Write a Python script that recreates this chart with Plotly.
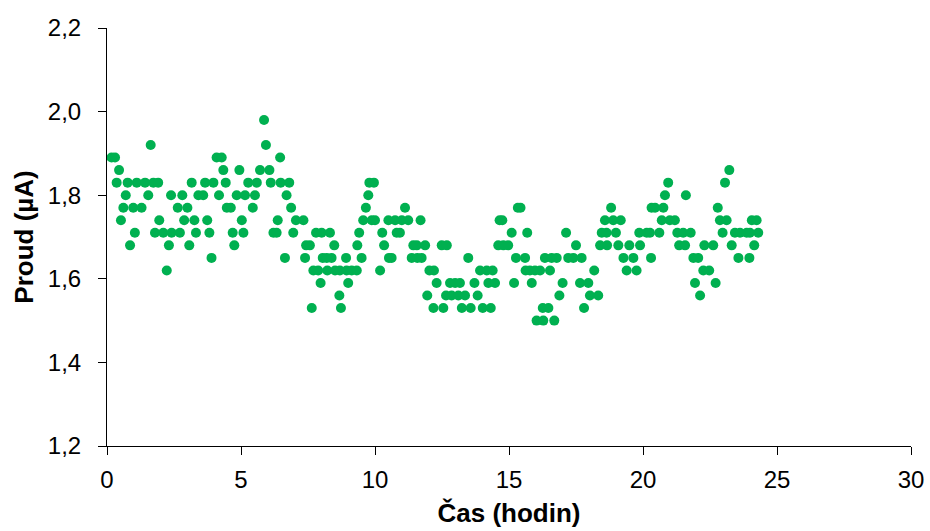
import plotly.graph_objects as go

# Time (hours) and current (µA)
time_h = [
    0.17, 0.30, 0.36, 0.45, 0.52, 0.61, 0.70, 0.77, 0.86, 0.98,
    1.04, 1.11, 1.29, 1.42, 1.54, 1.63, 1.73, 1.79, 1.91, 1.95,
    2.10, 2.23, 2.31, 2.39, 2.41, 2.64, 2.72, 2.81, 2.88, 3.00,
    3.07, 3.16, 3.26, 3.32, 3.41, 3.59, 3.66, 3.74, 3.82, 3.90,
    3.97, 4.09, 4.18, 4.28, 4.34, 4.43, 4.47, 4.62, 4.69, 4.75,
    4.84, 4.94, 5.03, 5.09, 5.15, 5.27, 5.44, 5.52, 5.59, 5.71,
    5.86, 5.93, 6.06, 6.11, 6.21, 6.33, 6.37, 6.46, 6.48, 6.64,
    6.70, 6.80, 6.87, 6.95, 7.05, 7.33, 7.39, 7.43, 7.57, 7.64,
    7.70, 7.80, 7.88, 7.97, 8.01, 8.05, 8.20, 8.22, 8.32, 8.38,
    8.48, 8.51, 8.67, 8.69, 8.73, 8.92, 8.94, 9.00, 9.13, 9.32,
    9.34, 9.41, 9.50, 9.56, 9.66, 9.75, 9.79, 9.88, 9.96, 10.00,
    10.19, 10.27, 10.34, 10.50, 10.52, 10.62, 10.75, 10.81, 10.93, 11.00,
    11.12, 11.24, 11.37, 11.43, 11.56, 11.58, 11.70, 11.74, 11.87, 11.95,
    12.03, 12.18, 12.20, 12.30, 12.49, 12.55, 12.65, 12.68, 12.80, 12.86,
    12.99, 13.11, 13.17, 13.24, 13.36, 13.48, 13.57, 13.71, 13.83, 13.92,
    14.02, 14.17, 14.23, 14.32, 14.39, 14.48, 14.60, 14.65, 14.75, 14.79,
    14.97, 15.10, 15.19, 15.26, 15.33, 15.43, 15.60, 15.62, 15.68, 15.78,
    15.85, 15.97, 16.03, 16.16, 16.26, 16.28, 16.34, 16.47, 16.53, 16.59,
    16.69, 16.78, 16.88, 17.00, 17.13, 17.21, 17.40, 17.50, 17.65, 17.71,
    17.80, 17.96, 18.02, 18.18, 18.33, 18.40, 18.46, 18.58, 18.64, 18.66,
    18.81, 18.89, 18.99, 19.08, 19.17, 19.27, 19.39, 19.49, 19.64, 19.76,
    19.86, 19.89, 20.14, 20.26, 20.30, 20.32, 20.45, 20.61, 20.70, 20.76,
    20.82, 20.94, 21.00, 21.19, 21.28, 21.35, 21.50, 21.57, 21.60, 21.78,
    21.88, 21.94, 22.06, 22.13, 22.25, 22.29, 22.47, 22.62, 22.71, 22.79,
    22.87, 22.97, 23.06, 23.12, 23.22, 23.31, 23.43, 23.56, 23.62, 23.87,
    23.97, 23.99, 24.06, 24.15, 24.24, 24.30,
]

current_uA = [
    1.89, 1.89, 1.83, 1.86, 1.74, 1.77, 1.80, 1.83, 1.68, 1.77,
    1.71, 1.83, 1.77, 1.83, 1.80, 1.92, 1.83, 1.71, 1.83, 1.74,
    1.71, 1.62, 1.68, 1.80, 1.71, 1.77, 1.71, 1.80, 1.74, 1.77,
    1.68, 1.83, 1.74, 1.71, 1.80, 1.80, 1.83, 1.74, 1.71, 1.65,
    1.83, 1.89, 1.80, 1.89, 1.86, 1.83, 1.77, 1.77, 1.71, 1.68,
    1.80, 1.86, 1.74, 1.71, 1.80, 1.83, 1.77, 1.80, 1.83, 1.86,
    1.98, 1.92, 1.86, 1.83, 1.71, 1.71, 1.74, 1.89, 1.83, 1.65,
    1.80, 1.83, 1.77, 1.71, 1.74, 1.74, 1.65, 1.68, 1.68, 1.53,
    1.62, 1.71, 1.62, 1.59, 1.71, 1.65, 1.65, 1.62, 1.71, 1.65,
    1.68, 1.62, 1.56, 1.62, 1.53, 1.65, 1.62, 1.59, 1.62, 1.62,
    1.68, 1.71, 1.65, 1.74, 1.77, 1.80, 1.83, 1.74, 1.83, 1.74,
    1.62, 1.71, 1.68, 1.74, 1.65, 1.65, 1.74, 1.71, 1.71, 1.74,
    1.77, 1.74, 1.65, 1.68, 1.68, 1.65, 1.74, 1.65, 1.68, 1.56,
    1.62, 1.53, 1.62, 1.59, 1.68, 1.53, 1.56, 1.68, 1.59, 1.56,
    1.59, 1.56, 1.59, 1.53, 1.56, 1.65, 1.53, 1.59, 1.56, 1.62,
    1.53, 1.62, 1.59, 1.53, 1.62, 1.59, 1.68, 1.74, 1.74, 1.68,
    1.68, 1.71, 1.59, 1.65, 1.77, 1.77, 1.65, 1.62, 1.71, 1.62,
    1.59, 1.62, 1.50, 1.62, 1.53, 1.50, 1.65, 1.53, 1.62, 1.65,
    1.50, 1.65, 1.56, 1.59, 1.71, 1.65, 1.65, 1.68, 1.59, 1.65,
    1.53, 1.59, 1.56, 1.62, 1.56, 1.68, 1.71, 1.74, 1.71, 1.68,
    1.77, 1.74, 1.71, 1.68, 1.74, 1.65, 1.62, 1.68, 1.65, 1.62,
    1.71, 1.68, 1.71, 1.71, 1.65, 1.77, 1.77, 1.71, 1.74, 1.77,
    1.80, 1.83, 1.74, 1.74, 1.71, 1.68, 1.71, 1.68, 1.80, 1.71,
    1.65, 1.59, 1.65, 1.56, 1.62, 1.68, 1.62, 1.68, 1.59, 1.77,
    1.74, 1.71, 1.83, 1.74, 1.86, 1.68, 1.71, 1.65, 1.71, 1.71,
    1.65, 1.71, 1.74, 1.68, 1.74, 1.71,
]

x_ticks = [0, 5, 10, 15, 20, 25, 30]
y_ticks = [1.2, 1.4, 1.6, 1.8, 2.0, 2.2]
y_tick_labels = ["1,2", "1,4", "1,6", "1,8", "2,0", "2,2"]

FONT = "Liberation Sans, Arial, sans-serif"
GREEN = "#00B050"

fig = go.Figure(
    go.Scatter(
        x=time_h,
        y=current_uA,
        mode="markers",
        marker=dict(color=GREEN, size=10, line=dict(width=0)),
        showlegend=False,
    )
)

fig.update_layout(
    width=930,
    height=531,
    margin=dict(l=107, r=19, t=28, b=85, autoexpand=False),
    paper_bgcolor="white",
    plot_bgcolor="white",
    font=dict(family=FONT, color="black", size=24),
    separators=",.",
)

fig.update_xaxes(
    range=[0, 30],
    tickvals=x_ticks,
    ticks="outside",
    ticklen=8,
    tickwidth=1,
    tickcolor="black",
    showline=True,
    linecolor="black",
    linewidth=1,
    showgrid=False,
    zeroline=False,
    tickfont=dict(family=FONT, size=24, color="black"),
    ticklabelstandoff=4,
    title=dict(text="<b>Čas (hodin)</b>", font=dict(family=FONT, size=26, color="black"), standoff=12),
    automargin=False,
)

fig.update_yaxes(
    range=[1.2, 2.2],
    tickvals=y_ticks,
    ticktext=y_tick_labels,
    ticks="outside",
    ticklen=8,
    tickwidth=1,
    tickcolor="black",
    showline=True,
    linecolor="black",
    linewidth=1,
    showgrid=False,
    zeroline=False,
    tickfont=dict(family=FONT, size=24, color="black"),
    ticklabelstandoff=12,
    title=dict(text="<b>Proud (µA)</b>", font=dict(family=FONT, size=26, color="black"), standoff=6),
    automargin=False,
)

fig.write_html("out.html")
